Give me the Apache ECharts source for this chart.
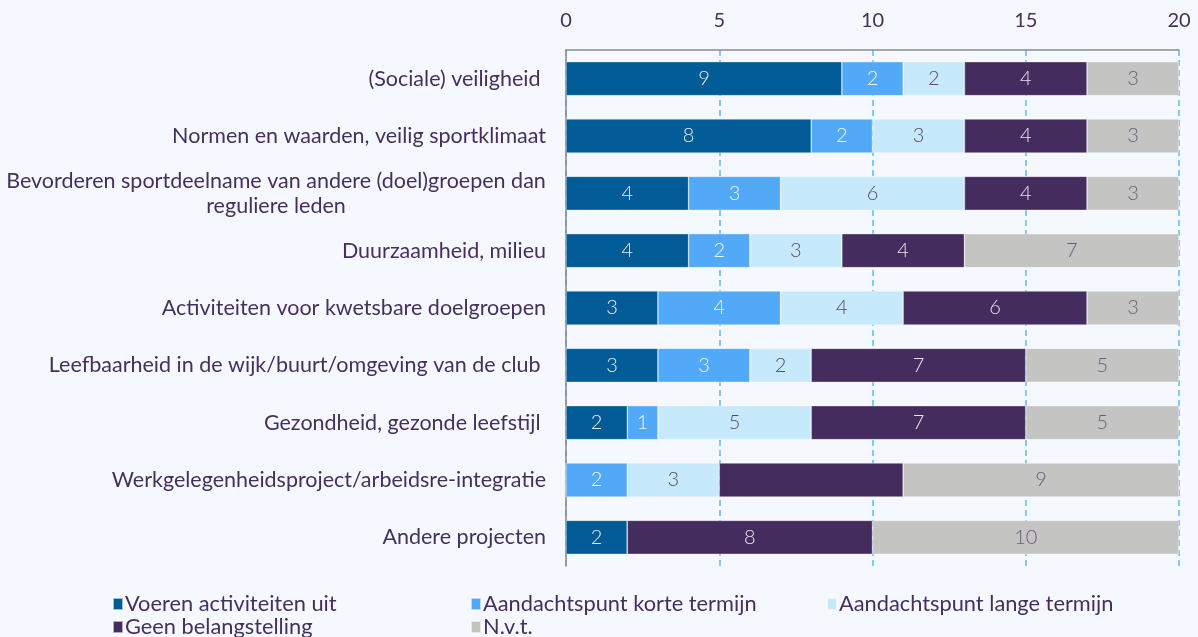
<!DOCTYPE html>
<html><head><meta charset="utf-8">
<script src="https://cdn.jsdelivr.net/npm/echarts@6/dist/echarts.min.js"></script>
<style>html,body{margin:0;padding:0;background:#f5f8fe;}#c{width:1198px;height:637px;}</style>
</head><body><div id="c"></div>
<script>
const categories = [
  "(Sociale) veiligheid ",
  "Normen en waarden, veilig sportklimaat",
  "Bevorderen sportdeelname van andere (doel)groepen dan\nreguliere leden",
  "Duurzaamheid, milieu",
  "Activiteiten voor kwetsbare doelgroepen",
  "Leefbaarheid in de wijk/buurt/omgeving van de club ",
  "Gezondheid, gezonde leefstijl ",
  "Werkgelegenheidsproject/arbeidsre-integratie",
  "Andere projecten"
];
const seriesNames = ["Voeren activiteiten uit","Aandachtspunt korte termijn","Aandachtspunt lange termijn","Geen belangstelling","N.v.t."];
const voeren = [9,8,4,4,3,3,2,0,2];
const korte  = [2,2,3,2,4,3,1,2,0];
const lange  = [2,3,6,3,4,2,5,3,0];
const geen   = [4,4,4,4,6,7,7,6,8];
const nvt    = [3,3,3,7,3,5,5,9,10];
const hiddenLabels = [[3,7]]; // [seriesIndex, categoryIndex] of unlabeled segments
const xTicks = [0,5,10,15,20];

const colors = ["#005b96","#52a9f7","#c7e9fc","#452c5e","#c4c4c2"];
const labelColors = ["#e6eef8","#f2f8ff","#5b4673","#e9e4ef","#6b5c7b"];
const allData = [voeren,korte,lange,geen,nvt];
const txt = "#45305c";
const font = "Lato";

const series = allData.map((arr, si) => ({
  name: seriesNames[si],
  type: 'bar',
  stack: 'total',
  barWidth: 34,
  itemStyle: {color: colors[si], borderColor: 'rgba(255,255,255,0.6)', borderWidth: 0.6},
  label: {
    show: true, position: 'inside', color: labelColors[si],
    fontFamily: font, fontSize: 20, fontWeight: 300,
    formatter: p => p.value === 0 ? '' : String(p.value)
  },
  data: arr.map((v, ci) => {
    const hide = hiddenLabels.some(h => h[0] === si && h[1] === ci);
    return hide ? {value: v, label: {show: false}} : v;
  })
}));

const legendPos = [[112,593],[470,593],[826,593],[112,616],[470,616]];
const legends = seriesNames.map((n, i) => ({
  data: [n], left: legendPos[i][0], top: legendPos[i][1],
  icon: 'rect', itemWidth: 10, itemHeight: 12, itemGap: 0, padding: 0,
  textStyle: {color: txt, fontFamily: font, fontSize: 21.8, padding: [0,0,0,-3]},
  selectedMode: false
}));

const chart = echarts.init(document.getElementById('c'));
chart.setOption({
  backgroundColor: '#f5f8fe',
  animation: false,
  grid: {left: 566, right: 19, top: 50, bottom: 71, containLabel: false},
  legend: legends,
  xAxis: {
    type: 'value', position: 'top', min: 0, max: 20, interval: 5,
    axisLine: {show: true, lineStyle: {color: '#8a8a8a', width: 1.5}},
    axisTick: {show: false},
    axisLabel: {color: txt, fontFamily: font, fontSize: 20, margin: 19,
      formatter: v => xTicks.includes(v) ? String(v) : ''},
    splitLine: {show: true, lineStyle: {color: '#5cbcf2', type: [6,4], width: 1.5}}
  },
  yAxis: {
    type: 'category', data: categories, inverse: true,
    axisLine: {show: true, lineStyle: {color: '#8a8a8a', width: 1.5}},
    axisTick: {show: false},
    axisLabel: {
      color: txt, fontFamily: font, fontSize: 21.5, margin: 20, lineHeight: 25,
      formatter: v => v.indexOf('\n') >= 0 ? v.split('\n').map(l => '{c|' + l + '}').join('\n') : v,
      rich: {c: {width: 540, align: 'center', color: txt, fontFamily: font, fontSize: 21.5, lineHeight: 25}}
    }
  },
  series: series
});
</script>
</body></html>
